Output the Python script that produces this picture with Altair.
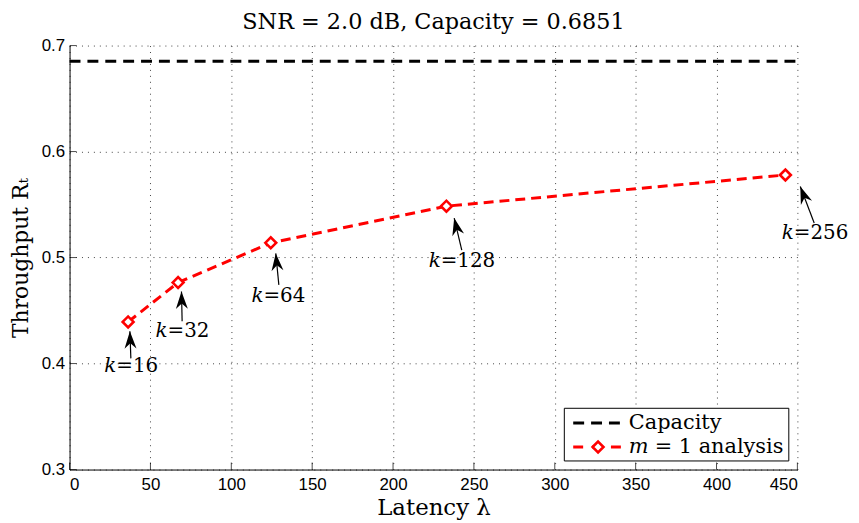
import math
import altair as alt
import pandas as pd

# ---------------- data ----------------
k_values = [16, 32, 64, 128, 256]
latency = [36.2, 67.1, 124.4, 233.0, 442.6]
throughput = [0.4393, 0.4764, 0.5139, 0.5485, 0.5779]

capacity = 0.6851
capacity_x = [0, 450]

# annotation arrows (tail -> tip) and label anchors, in data units
arrow_tail_x = [37.9, 69.6, 129.4, 242.5, 460.4]
arrow_tail_y = [0.4049, 0.4399, 0.4742, 0.5070, 0.5326]
arrow_tip_x = [37.3, 69.2, 127.5, 237.8, 451.8]
arrow_tip_y = [0.4305, 0.4680, 0.5039, 0.5373, 0.5670]
label_x = [21.5, 53.2, 112.5, 222.1, 440.4]
label_y = [0.3977, 0.4305, 0.4639, 0.4970, 0.5227]

x_ticks = [0, 50, 100, 150, 200, 250, 300, 350, 400, 450]
y_ticks = [0.3, 0.4, 0.5, 0.6, 0.7]

legend_names = ["Capacity", "m = 1 analysis"]
legend_box_x = [305.9, 444.7]
legend_box_y = [0.3081, 0.3578]
legend_line_x = [311.4, 342.1]
legend_row_y = [0.3440, 0.3213]
legend_text_x = 345.8

# ---------------- layout ----------------
W, H = 733, 427
XMIN, XMAX = 0, 450
YMIN, YMAX = 0.3, 0.7
SERIF = "DejaVu Serif"
SANS = "Liberation Sans"

xs = alt.Scale(domain=[XMIN, XMAX], nice=False, zero=False)
ys = alt.Scale(domain=[YMIN, YMAX], nice=False, zero=False)

x_axis = alt.Axis(values=x_ticks, title="Latency λ", titleX=W / 2, titleY=38,
                  titleBaseline="middle", titleAlign="center", labelPadding=7,
                  format="d")
y_axis = alt.Axis(values=y_ticks, title="Throughput Rₜ", titleX=-49, titleY=H / 2,
                  titleAngle=270, titleBaseline="middle", titleAlign="center",
                  titleFontSize=22, labelPadding=5, format=".1f")


def X(field="x"):
    return alt.X(f"{field}:Q", scale=xs, axis=x_axis)


def Y(field="y"):
    return alt.Y(f"{field}:Q", scale=ys, axis=y_axis)


# ---------------- tables ----------------
df_main = pd.DataFrame({"x": latency, "y": throughput, "k": k_values})
df_cap = pd.DataFrame({"x": capacity_x, "y": [capacity, capacity]})

sx = W / (XMAX - XMIN)
sy = H / (YMAX - YMIN)
angles = []
for tx, ty, hx, hy in zip(arrow_tail_x, arrow_tail_y, arrow_tip_x, arrow_tip_y):
    dx = (hx - tx) * sx
    dy = -(hy - ty) * sy
    angles.append(math.degrees(math.atan2(dx, -dy)) % 360)

df_arrow = pd.DataFrame({
    "x": arrow_tail_x, "y": arrow_tail_y,
    "x2": arrow_tip_x, "y2": arrow_tip_y,
    "angle": angles,
})
df_label = pd.DataFrame({
    "x": label_x, "y": label_y,
    "rest": [f"={k}" for k in k_values],
})

# ---------------- layers ----------------
cap_line = alt.Chart(df_cap).mark_line(
    color="black", strokeWidth=3, strokeDash=[11, 7]
).encode(x=X(), y=Y())

red_line = alt.Chart(df_main).mark_line(
    color="#ff0000", strokeWidth=3, strokeDash=[10, 6]
).encode(x=X(), y=Y())

markers = alt.Chart(df_main).mark_point(
    shape="diamond", size=120, filled=True, fill="white", stroke="#ff0000",
    strokeWidth=2.6, opacity=1
).encode(x=X(), y=Y())

arrow_shaft = alt.Chart(df_arrow).mark_rule(color="black", strokeWidth=1.2).encode(
    x=X(), y=Y(), x2="x2:Q", y2="y2:Q"
)

head_path = "M0,0 L0.55,1.6 L0,1.1 L-0.55,1.6 Z"
arrow_head = alt.Chart(df_arrow).mark_point(
    shape=head_path, size=480, filled=True, color="black", opacity=1, strokeWidth=0
).encode(x=X("x2"), y=Y("y2"), angle=alt.Angle("angle:Q", scale=None))

label_k = alt.Chart(df_label).mark_text(
    text="k", font=SERIF, fontStyle="italic", fontSize=20, align="left",
    baseline="middle", color="black"
).encode(x=X(), y=Y())

label_rest = alt.Chart(df_label).mark_text(
    font=SERIF, fontSize=20, align="left", baseline="middle", color="black", dx=12
).encode(x=X(), y=Y(), text="rest:N")

# inward ticks on the left and bottom axes
df_xt = pd.DataFrame({"x": x_ticks})
df_yt = pd.DataFrame({"y": y_ticks})
xticks_in = alt.Chart(df_xt).mark_tick(
    orient="vertical", size=7, thickness=1, color="black"
).encode(x=X(), y=alt.value(H - 3.5))
yticks_in = alt.Chart(df_yt).mark_tick(
    orient="horizontal", size=7, thickness=1, color="black"
).encode(y=Y(), x=alt.value(3.5))

# legend (drawn in data space)
df_lbox = pd.DataFrame({"x": [legend_box_x[0]], "x2": [legend_box_x[1]],
                        "y": [legend_box_y[0]], "y2": [legend_box_y[1]]})
lbox = alt.Chart(df_lbox).mark_rect(fill="white", stroke="black", strokeWidth=1).encode(
    x=X(), x2="x2:Q", y=Y(), y2="y2:Q"
)
df_l1 = pd.DataFrame({"x": [legend_line_x[0]], "x2": [legend_line_x[1]], "y": [legend_row_y[0]]})
df_l2 = pd.DataFrame({"x": [legend_line_x[0]], "x2": [legend_line_x[1]], "y": [legend_row_y[1]]})
l1 = alt.Chart(df_l1).mark_rule(color="black", strokeWidth=3, strokeDash=[11, 7]).encode(
    x=X(), x2="x2:Q", y=Y())
l2 = alt.Chart(df_l2).mark_rule(color="#ff0000", strokeWidth=3, strokeDash=[10, 9]).encode(
    x=X(), x2="x2:Q", y=Y())
df_l2m = pd.DataFrame({"x": [(legend_line_x[0] + legend_line_x[1]) / 2], "y": [legend_row_y[1]]})
l2m = alt.Chart(df_l2m).mark_point(
    shape="diamond", size=120, filled=True, fill="white", stroke="#ff0000",
    strokeWidth=2.6, opacity=1
).encode(x=X(), y=Y())
df_lt1 = pd.DataFrame({"x": [legend_text_x], "y": [legend_row_y[0]], "t": [legend_names[0]]})
df_lt2 = pd.DataFrame({"x": [legend_text_x], "y": [legend_row_y[1]], "t": ["= 1 analysis"]})
lt1 = alt.Chart(df_lt1).mark_text(font=SERIF, fontSize=21, align="left", baseline="middle",
                                  color="black").encode(x=X(), y=Y(), text="t:N")
lt2m = alt.Chart(df_lt2).mark_text(text="m", font=SERIF, fontStyle="italic", fontSize=21,
                                   align="left", baseline="middle", color="black").encode(
    x=X(), y=Y())
lt2 = alt.Chart(df_lt2).mark_text(font=SERIF, fontSize=21, align="left", baseline="middle",
                                  color="black", dx=26).encode(x=X(), y=Y(), text="t:N")

chart = alt.layer(
    cap_line, red_line, markers, arrow_shaft, arrow_head, label_k, label_rest,
    xticks_in, yticks_in, lbox, l1, l2, l2m, lt1, lt2m, lt2
).properties(
    width=W, height=H,
    title=alt.TitleParams("SNR = 2.0 dB, Capacity = 0.6851", font=SERIF, fontSize=22.5,
                          fontWeight="normal", anchor="middle", offset=3, frame="group",
                          color="black"),
    autosize=alt.AutoSizeParams(type="none"),
    padding={"left": 62, "top": 36, "right": 54, "bottom": 52},
).configure_view(stroke=None).configure_axis(
    domainColor="black", domainWidth=1, ticks=False,
    grid=True, gridColor="#444444", gridDash=[1, 5], gridWidth=1, gridOpacity=1,
    labelFont=SANS, labelFontSize=17, labelColor="black",
    titleFont=SERIF, titleFontSize=23, titleFontWeight="normal", titleColor="black",
)

chart.save("out.html", embed_options={"renderer": "svg", "actions": False})
